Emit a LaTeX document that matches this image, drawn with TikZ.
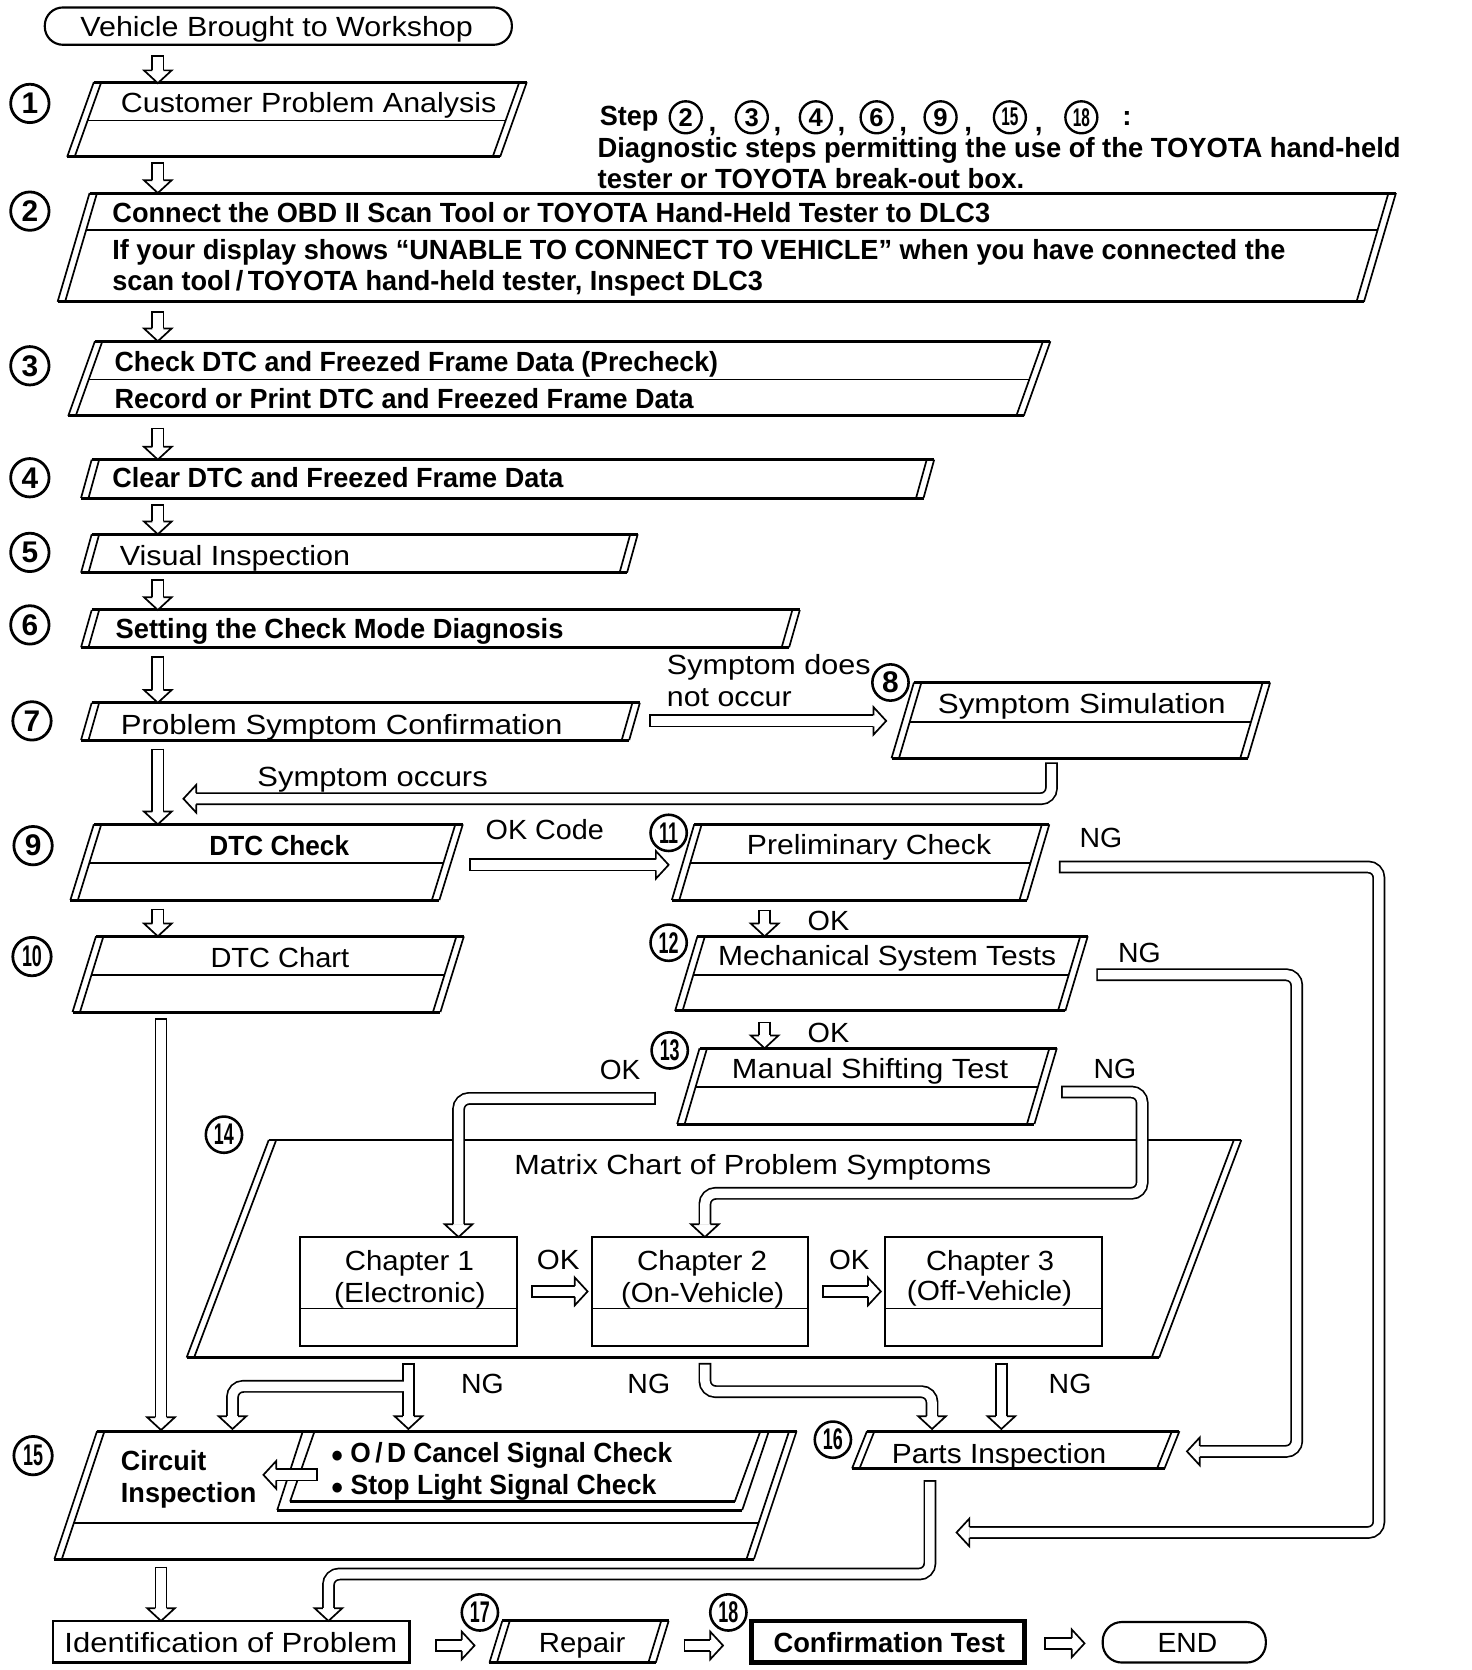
\documentclass[tikz,border=0pt]{standalone}
\usepackage{fontspec}
\setmainfont{Liberation Sans}
\usepackage{graphicx}
\usetikzlibrary{calc,shapes.geometric}

\tikzset{
 thickl/.style={line width=1.4pt},
 thinl/.style={line width=0.8pt},
 cb/.style={line width=6pt, rounded corners=5pt},
 cw/.style={line width=4.4pt, white, rounded corners=5pt, shorten <=0.8pt},
 hl/.style={line width=0.8pt, line join=miter},
 txt/.style={inner sep=0pt, anchor=west, text height=9.3pt, text depth=0pt},
 cnum/.style={draw, circle, line width=1.3pt, minimum size=18pt, inner sep=0pt, font=\fontsize{14pt}{14pt}\selectfont\bfseries},
 cnumn/.style={draw, circle, line width=1.2pt, minimum size=17pt, inner sep=0pt, font=\fontsize{14pt}{14pt}\selectfont\bfseries},
 cnums/.style={draw, circle, line width=1.1pt, minimum size=15pt, inner sep=0pt, font=\fontsize{12pt}{12pt}\selectfont\bfseries},
}

\newcommand\tw[2]{\resizebox{\dimexpr #1pt/2\relax}{\height}{#2}}
\newcommand\pbox[6]{%
 \draw[thickl] (#3,#1) -- (#4,#1);
 \draw[thickl] (#3-#5,#2) -- (#4-#5,#2);
 \draw[thinl] (#3,#1) -- (#3-#5,#2);
 \draw[thinl] (#3+7,#1) -- (#3+7-#5,#2);
 \draw[thinl] (#4,#1) -- (#4-#5,#2);
 \draw[thinl] (#4-7,#1) -- (#4-7-#5,#2);
 \ifx&#6&\else
 \draw[thinl] ($(#3+7,#1)!{(#6-#1)/(#2-#1)}!(#3+7-#5,#2)$) -- ($(#4-7,#1)!{(#6-#1)/(#2-#1)}!(#4-7-#5,#2)$);
 \fi}
\newcommand\hD[2]{\fill[white] (#1-13,#2-12) -- (#1,#2) -- (#1+13,#2-12) -- cycle;
 \draw[hl] (#1-5.2,#2-12) -- (#1-13,#2-12) -- (#1,#2) -- (#1+13,#2-12) -- (#1+5.2,#2-12);}
\newcommand\hL[2]{\fill[white] (#1+12,#2-13) -- (#1,#2) -- (#1+12,#2+13) -- cycle;
 \draw[hl] (#1+12,#2-5.2) -- (#1+12,#2-13) -- (#1,#2) -- (#1+12,#2+13) -- (#1+12,#2+5.2);}
\newcommand\hR[2]{\fill[white] (#1-12,#2-13) -- (#1,#2) -- (#1-12,#2+13) -- cycle;
 \draw[hl] (#1-12,#2-5.2) -- (#1-12,#2-13) -- (#1,#2) -- (#1-12,#2+13) -- (#1-12,#2+5.2);}
\newcommand\aD[3]{\draw[cb] (#1,#2) -- (#1,#3-12); \draw[cw] (#1,#2) -- (#1,#3-12); \hD{#1}{#3}}
\newcommand\aR[3]{\draw[cb] (#2,#1) -- (#3-12,#1); \draw[cw] (#2,#1) -- (#3-12,#1); \hR{#3}{#1}}
\newcommand\aL[3]{\draw[cb] (#2,#1) -- (#3+12,#1); \draw[cw] (#2,#1) -- (#3+12,#1); \hL{#3}{#1}}
\newcommand\two[1]{\scalebox{0.6}[1]{#1}}

\begin{document}
\begin{tikzpicture}[x=0.5pt,y=-0.5pt,font=\fontsize{13pt}{15pt}\selectfont]
\fill[white] (0,0) rectangle (1380,1566);
\useasboundingbox (0,0) rectangle (1380,1566);

% ---------- boxes ----------
\draw[line width=1pt, rounded corners=8.5pt] (42,7) rectangle (480,42);
\pbox{77}{147}{88}{494}{25}{113}
\pbox{181}{283}{84}{1309}{30}{216}
\pbox{320}{390}{89}{985}{25}{356}
\pbox{431}{467}{86}{876}{10}{}
\pbox{501}{537}{86}{598}{10}{}
\pbox{572}{607}{86}{750}{10}{}
\pbox{659}{694}{86}{600}{10}{}
\pbox{640}{711}{857}{1191}{21}{677}
\pbox{773}{844}{88}{434}{22}{809}
\pbox{773}{844}{651}{984}{21}{809}
\pbox{878}{949}{90}{435}{22}{914}
\pbox{878}{948}{654}{1020}{21}{914}
\pbox{983}{1054}{656}{991}{21}{1019}
\pbox{1069}{1273}{252}{1164}{77}{}
\foreach \xa/\xb in {281/485,555/758,830/1033}{
 \draw[line width=1pt] (\xa,1160) rectangle (\xb,1262);
 \draw[thinl] (\xa,1227) -- (\xb,1227);}
\pbox{1342}{1462}{91}{747}{40}{1428}
\draw[thinl] (284,1342) -- (260,1416);
\draw[thinl] (295,1342) -- (272,1408);
\draw[thickl] (260,1416) -- (696,1416);
\draw[thickl] (272,1408) -- (689,1408);
\draw[thinl] (696,1416) -- (721,1342);
\draw[thinl] (689,1408) -- (713,1342);
\pbox{1342}{1377}{813}{1106}{14}{}
\draw[line width=1pt] (50,1520) rectangle (384,1559);
\pbox{1520}{1559}{471}{627}{12}{}
\draw[line width=2.2pt] (705,1520) rectangle (961,1559);
\draw[line width=1pt, rounded corners=9pt] (1034,1521) rectangle (1187,1559);

% ---------- connectors ----------
\aD{148}{52}{78}
\aD{148}{152}{181}
\aD{148}{292}{320}
\aD{148}{401}{431}
\aD{148}{473}{501}
\aD{148}{543}{572}
\aD{148}{615}{659}
\aD{148}{702}{773}
\aD{148}{852}{878}
\aD{151}{955}{1341}
\aD{151}{1469}{1520}
\aR{676}{609}{831}
\draw[cb] (986,715) -- (986,749) -- (184,749);
\draw[cw] (986,715) -- (986,749) -- (184,749);
\hL{172}{749}
\aR{811}{440}{627}
\draw[cb] (993,813) -- (1293,813) -- (1293,1437) -- (909,1437);
\draw[cw] (993,813) -- (1293,813) -- (1293,1437) -- (909,1437);
\hL{897}{1437}
\draw[cb] (1028,914) -- (1216,914) -- (1216,1361) -- (1125,1361);
\draw[cw] (1028,914) -- (1216,914) -- (1216,1361) -- (1125,1361);
\hL{1113}{1361}
\aD{717}{853}{878}
\aD{717}{958}{983}
\draw[cb] (615,1030) -- (430,1030) -- (430,1148);
\draw[cw] (615,1030) -- (430,1030) -- (430,1148);
\hD{430}{1160}
\draw[cb] (995,1024) -- (1071,1024) -- (1071,1119) -- (661,1119) -- (661,1148);
\draw[cw] (995,1024) -- (1071,1024) -- (1071,1119) -- (661,1119) -- (661,1148);
\hD{661}{1160}
\aR{1211}{498}{551}
\aR{1211}{771}{826}
\draw[cb] (383,1278) -- (383,1328);
\draw[cb] (383,1300) -- (218,1300) -- (218,1328);
\draw[cw] (383,1278) -- (383,1328);
\draw[cw] (383,1300) -- (218,1300) -- (218,1328);
\hD{383}{1340}
\hD{218}{1340}
\draw[cb] (661,1278) -- (661,1305) -- (874,1305) -- (874,1328);
\draw[cw] (661,1278) -- (661,1305) -- (874,1305) -- (874,1328);
\hD{874}{1340}
\aD{939}{1278}{1340}
\draw[cb] (872,1388) -- (872,1476) -- (308,1476) -- (308,1508);
\draw[cw] (872,1388) -- (872,1476) -- (308,1476) -- (308,1508);
\hD{308}{1520}
\aL{1383}{298}{247}
\aR{1543}{408}{445}
\aR{1543}{641}{678}
\aR{1541}{979}{1017}

% ---------- circled numbers ----------
\node[cnum] (n1) at (28,97) {1};
\node[cnum] (n2) at (28,198) {2};
\node[cnum] (n3) at (28,343) {3};
\node[cnum] (n4) at (28,448) {4};
\node[cnum] (n5) at (28,518) {5};
\node[cnum] (n6) at (28,586) {6};
\node[cnum] (n7) at (30,676) {7};
\node[cnumn] (n8) at (835,640) {8};
\node[cnum] (n9) at (31,793) {9};
\node[cnum] (n10) at (30,897) {\two{10}};
\node[cnumn] (n11) at (627,781) {\two{11}};
\node[cnumn] (n12) at (627,884) {\two{12}};
\node[cnumn] (n13) at (628,985) {\two{13}};
\node[cnumn] (n14) at (210,1064) {\two{14}};
\node[cnum] (n15) at (31,1365) {\two{15}};
\node[cnumn] (n16) at (781,1350) {\two{16}};
\node[cnumn] (n17) at (450,1512) {\two{17}};
\node[cnumn] (n18) at (683,1512) {\two{18}};

% ---------- step note ----------
\node[txt] (st) at (562,108) {\tw{55}{\bfseries Step}};
\foreach \xx/\nn [count=\i] in {643/2,705/3,765/4,822/6,882/9,947/\two{15},1014/\two{18}}{
 \node[cnums] (s\i) at (\xx,110) {\nn};}
\foreach \xx [count=\i] in {664,725,785,843,904,970}{
 \node[txt] (c\i) at (\xx,114) {\bfseries ,};}
\node[txt] (colon) at (1052,108) {\bfseries :};
\node[txt] (st2) at (560,138) {\tw{753}{\bfseries Diagnostic steps permitting the use of the TOYOTA hand-held}};
\node[txt] (st3) at (560,167) {\tw{400}{\bfseries tester or TOYOTA break-out box.}};

% ---------- texts ----------
\node[txt] (t0) at (75,25) {\tw{368}{Vehicle Brought to Workshop}};
\node[txt] (t1) at (113,96) {\tw{352}{Customer Problem Analysis}};
\node[txt] (t2a) at (105,199) {\tw{823}{\bfseries Connect the OBD II Scan Tool or TOYOTA Hand-Held Tester to DLC3}};
\node[txt] (t2b) at (105,234) {\tw{1100}{\bfseries If your display shows ``UNABLE TO CONNECT TO VEHICLE'' when you have connected the}};
\node[txt] (t2c) at (105,263) {\tw{610}{\bfseries scan tool\,/\,TOYOTA hand-held tester, Inspect DLC3}};
\node[txt] (t3a) at (107,339) {\tw{566}{\bfseries Check DTC and Freezed Frame Data (Precheck)}};
\node[txt] (t3b) at (107,374) {\tw{543}{\bfseries Record or Print DTC and Freezed Frame Data}};
\node[txt] (t4) at (105,448) {\tw{423}{\bfseries Clear DTC and Freezed Frame Data}};
\node[txt] (t5) at (112,521) {\tw{216}{Visual Inspection}};
\node[txt] (t6) at (108,589) {\tw{420}{\bfseries Setting the Check Mode Diagnosis}};
\node[txt] (t7) at (113,679) {\tw{414}{Problem Symptom Confirmation}};
\node[txt] (l7a) at (625,623) {\tw{191}{Symptom does}};
\node[txt] (l7b) at (625,653) {\tw{117}{not occur}};
\node[txt] (t8) at (879,660) {\tw{270}{Symptom Simulation}};
\node[txt] (l8) at (241,728) {\tw{216}{Symptom occurs}};
\node[txt] (t9) at (196,793) {\tw{131}{\bfseries DTC Check}};
\node[txt] (l9) at (455,778) {\tw{111}{OK Code}};
\node[txt] (t11) at (700,792) {\tw{229}{Preliminary Check}};
\node[txt] (l11) at (1012,785) {\tw{40}{NG}};
\node[txt] (t10) at (197,898) {\tw{130}{DTC Chart}};
\node[txt] (l12a) at (757,863) {\tw{39}{OK}};
\node[txt] (t12) at (673,896) {\tw{317}{Mechanical System Tests}};
\node[txt] (l12) at (1048,893) {\tw{40}{NG}};
\node[txt] (l13a) at (757,968) {\tw{39}{OK}};
\node[txt] (t13) at (686,1002) {\tw{259}{Manual Shifting Test}};
\node[txt] (l13b) at (562,1003) {\tw{38}{OK}};
\node[txt] (l13c) at (1025,1002) {\tw{40}{NG}};
\node[txt] (t14) at (482,1092) {\tw{447}{Matrix Chart of Problem Symptoms}};
\node[txt] (c1a) at (323,1182) {\tw{121}{Chapter 1}};
\node[txt] (c1b) at (313,1212) {\tw{142}{(Electronic)}};
\node[txt] (lc1) at (503,1181) {\tw{40}{OK}};
\node[txt] (c2a) at (597,1182) {\tw{122}{Chapter 2}};
\node[txt] (c2b) at (582,1212) {\tw{153}{(On-Vehicle)}};
\node[txt] (lc2) at (777,1181) {\tw{38}{OK}};
\node[txt] (c3a) at (868,1182) {\tw{120}{Chapter 3}};
\node[txt] (c3b) at (850,1210) {\tw{155}{(Off-Vehicle)}};
\node[txt] (ng1) at (432,1297) {\tw{40}{NG}};
\node[txt] (ng2) at (588,1297) {\tw{40}{NG}};
\node[txt] (ng3) at (983,1297) {\tw{40}{NG}};
\node[txt] (t15a) at (113,1370) {\tw{80}{\bfseries Circuit}};
\node[txt] (t15b) at (113,1400) {\tw{127}{\bfseries Inspection}};
\node[txt] (t15c) at (310,1362) {\tw{320}{\bfseries $\bullet$ O\,/\,D Cancel Signal Check}};
\node[txt] (t15d) at (310,1392) {\tw{305}{\bfseries $\bullet$ Stop Light Signal Check}};
\node[txt] (t16) at (836,1363) {\tw{201}{Parts Inspection}};
\node[txt] (tid) at (60,1540) {\tw{312}{Identification of Problem}};
\node[txt] (t17) at (505,1540) {\tw{81}{Repair}};
\node[txt] (t18) at (725,1540) {\tw{217}{\bfseries Confirmation Test}};
\node[txt] (tend) at (1085,1540) {\tw{56}{END}};
\end{tikzpicture}
\end{document}
